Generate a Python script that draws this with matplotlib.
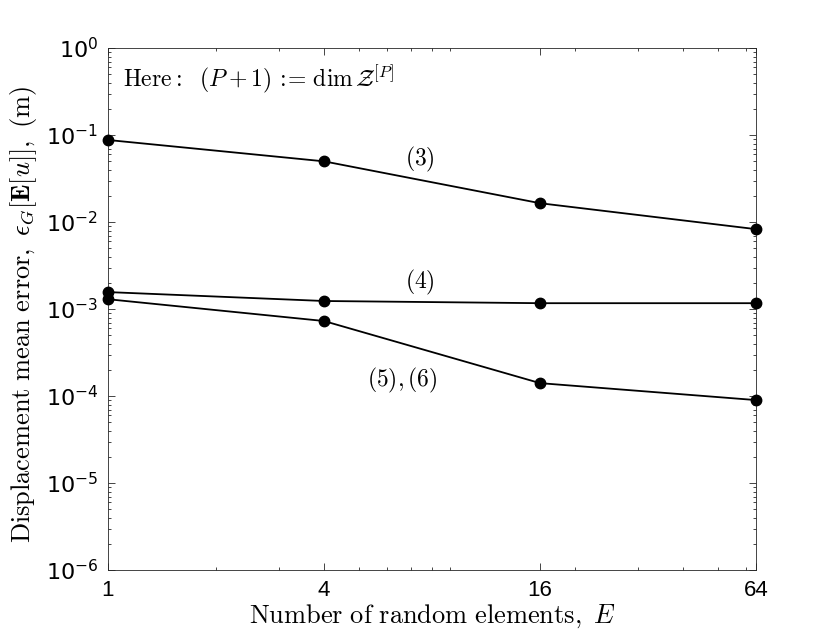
import matplotlib
matplotlib.use('Agg')
import matplotlib.pyplot as plt
from matplotlib.ticker import LogLocator, FixedLocator, NullFormatter

plt.rcParams['mathtext.fontset'] = 'cm'
plt.rcParams['font.family'] = ['Liberation Sans', 'DejaVu Sans']

# data
E = [1, 4, 16, 64]
err_3 = [0.088, 0.050, 0.0165, 0.0083]
err_4 = [1.57e-3, 1.24e-3, 1.17e-3, 1.17e-3]
err_56 = [1.30e-3, 7.3e-4, 1.41e-4, 9.0e-5]

x_ticks = [1, 4, 16, 64]
y_ticks = [1e-6, 1e-5, 1e-4, 1e-3, 1e-2, 1e-1, 1e0]
y_ticklabels = ['$10^{-6}$', '$10^{-5}$', '$10^{-4}$', '$10^{-3}$',
                '$10^{-2}$', '$10^{-1}$', '$10^{0}$']

axcol = '#262626'

fig = plt.figure(figsize=(8.3, 6.42), dpi=100)
ax = fig.add_axes([0.130, 0.112, 0.781, 0.813])

for ys in (err_3, err_4, err_56):
    ax.plot(E, ys, '-o', color='black', lw=1.3, ms=7.5, clip_on=False, zorder=3)

ax.set_xscale('log')
ax.set_yscale('log')
ax.set_xlim(1, 64)
ax.set_ylim(1e-6, 1e0)

ax.xaxis.set_major_locator(FixedLocator(x_ticks))
ax.set_xticklabels([str(v) for v in x_ticks])
ax.xaxis.set_minor_locator(LogLocator(base=10, subs=range(2, 10)))
ax.xaxis.set_minor_formatter(NullFormatter())
ax.set_yticks(y_ticks)
ax.set_yticklabels(y_ticklabels)
for lbl in ax.get_yticklabels():
    lbl.set_math_fontfamily('dejavusans')
ax.yaxis.set_minor_locator(LogLocator(base=10, subs=range(2, 10)))
ax.yaxis.set_minor_formatter(NullFormatter())

ax.tick_params(which='both', direction='in', top=True, right=True, colors=axcol,
               labelcolor='black', labelsize=16, width=0.6)
ax.tick_params(which='major', length=5, pad=7)
ax.tick_params(which='minor', length=2.5)
for sp in ax.spines.values():
    sp.set_color(axcol)
    sp.set_linewidth(0.6)

ax.set_xlabel('$\\mathrm{Number\\ of\\ random\\ elements,}\\ E$', fontsize=19, labelpad=1)
ax.set_ylabel('$\\mathrm{Displacement\\ mean\\ error,}\\ \\epsilon_G[\\mathbf{E}[u]],\\ \\mathrm{(m)}$',
              fontsize=19, labelpad=0)
ax.yaxis.set_label_coords(-0.106, 0.49)

ax.text(1.1, 0.45, '$\\mathrm{Here{:}}\\ \\ (P+1)\\,:\\!\\!=\\,\\dim\\mathcal{Z}^{[P]}$',
        fontsize=17, va='center', ha='left')
ax.text(7.4, 0.052, '$(3)$', fontsize=17, ha='center', va='center')
ax.text(7.4, 2.0e-3, '$(4)$', fontsize=17, ha='center', va='center')
ax.text(6.6, 1.5e-4, '$(5),(6)$', fontsize=17, ha='center', va='center')

fig.savefig('out.png', dpi=100)
